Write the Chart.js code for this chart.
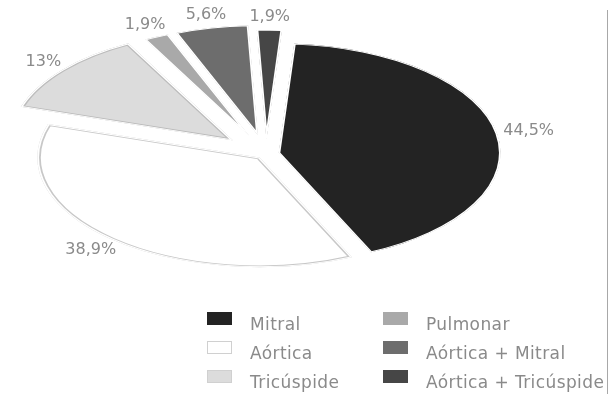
<!DOCTYPE html>
<html>
<head>
<meta charset="utf-8">
<script src="https://cdn.jsdelivr.net/npm/chart.js@4.4.1/dist/chart.umd.min.js"></script>
<style>
  html, body { margin: 0; padding: 0; background: #ffffff; }
  #wrap { position: relative; width: 613px; height: 394px; overflow: hidden; }
  #pie { position: absolute; left: 0; top: 0; }
  #frame { position: absolute; left: 607px; top: 10px; width: 1px; height: 384px; background: #a8a8a8; }
  .sw { position: absolute; width: 25px; height: 13px; box-sizing: border-box; }
  .tx { position: absolute; height: 20px; line-height: 20px; white-space: nowrap; letter-spacing: 0.4px;
        font-family: "DejaVu Sans", sans-serif; font-size: 17px; color: #8a8a8a; }
</style>
</head>
<body>
<div id="wrap">
  <canvas id="pie" width="613" height="394"></canvas>
  <div id="frame"></div>
</div>
<script>
// Valve involvement, share of cases (%)
const categories = ['Mitral', 'Aórtica', 'Tricúspide', 'Pulmonar', 'Aórtica + Mitral', 'Aórtica + Tricúspide'];
const percentages = [44.5, 38.9, 13, 1.9, 5.6, 1.9];

// Styling
const fillColors = ['#232323', '#ffffff', '#dcdcdc', '#a9a9a9', '#6d6d6d', '#464646'];
const outlineColors = [null, '#c8c8c8', '#bcbcbc', null, null, null];
const legendEdges = ['#232323', '#d0d0d0', '#d0d0d0', '#a9a9a9', '#6d6d6d', '#464646'];
const explode = [13, 10, 44, 40, 40, 30];   // outward shift of each slice, px

const TILT = 0.493;        // vertical squash of the pie (ellipse look)
const GAP = 1.5;           // white inner band around each slice
const LABEL_PAD = 8;       // distance of labels beyond the slice edge

const formatPct = v => String(v).replace('.', ',') + '%';
const CLEAR = 'rgba(0,0,0,0)';

// draw an arc element with a few options swapped in
function paintWith(arc, ctx, extra) {
  const saved = arc.options;
  arc.options = Object.assign({}, saved, extra);
  arc.draw(ctx);
  arc.options = saved;
}

const tiltPlugin = {
  id: 'tilt',
  beforeDatasetDraw(chart, args) {
    const ctx = chart.ctx;
    const arcs = args.meta.data;
    const cy = arcs[0].y;
    ctx.save();
    ctx.translate(0, cy);
    ctx.scale(1, TILT);
    ctx.translate(0, -cy);
    arcs.forEach((arc, i) => {
      const mid = (arc.startAngle + arc.endAngle) / 2;
      ctx.save();
      ctx.translate(Math.cos(mid) * explode[i], Math.sin(mid) * explode[i]);
      arc.draw(ctx);
      if (outlineColors[i]) {
        paintWith(arc, ctx, { backgroundColor: CLEAR, borderColor: outlineColors[i], borderWidth: GAP + 1.8 });
        paintWith(arc, ctx, { backgroundColor: CLEAR, borderColor: '#ffffff', borderWidth: GAP });
      }
      ctx.restore();
    });
    ctx.restore();
    return false;
  },
  afterDraw(chart) {
    const ctx = chart.ctx;
    const meta = chart.getDatasetMeta(0);
    ctx.save();
    ctx.font = '16px "DejaVu Sans", sans-serif';
    ctx.fillStyle = '#8a8a8a';
    ctx.textAlign = 'center';
    ctx.textBaseline = 'middle';
    meta.data.forEach((arc, i) => {
      const mid = (arc.startAngle + arc.endAngle) / 2;
      const text = formatPct(percentages[i]);
      const halfW = ctx.measureText(text).width / 2;
      const r = arc.outerRadius - GAP + explode[i] + LABEL_PAD;
      const lx = arc.x + Math.cos(mid) * r + Math.cos(mid) * halfW;
      const ly = arc.y + Math.sin(mid) * r * TILT + Math.sin(mid) * 10;
      ctx.fillText(text, lx, ly);
    });
    ctx.restore();
  }
};

new Chart(document.getElementById('pie'), {
  type: 'pie',
  data: {
    labels: categories,
    datasets: [{
      data: percentages,
      backgroundColor: fillColors,
      borderColor: '#ffffff',
      borderWidth: GAP,
      borderAlign: 'inner',
      clip: false
    }]
  },
  options: {
    responsive: false,
    animation: false,
    devicePixelRatio: 1,
    radius: 222,
    rotation: 4,
    layout: { padding: { left: 0, top: 0, right: 81, bottom: 86 } },
    events: [],
    plugins: {
      legend: { display: false },
      tooltip: { enabled: false }
    }
  },
  plugins: [tiltPlugin]
});

// Two-column legend below the pie
const wrap = document.getElementById('wrap');
categories.forEach((name, i) => {
  const col = Math.floor(i / 3), row = i % 3;
  const top = 312 + row * 29;
  const left = 207 + col * 176;
  const sw = document.createElement('div');
  sw.className = 'sw';
  sw.style.left = left + 'px';
  sw.style.top = top + 'px';
  sw.style.background = fillColors[i];
  sw.style.border = '1px solid ' + legendEdges[i];
  const tx = document.createElement('div');
  tx.className = 'tx';
  tx.style.left = (left + 43) + 'px';
  tx.style.top = (top + 2) + 'px';
  tx.textContent = name;
  wrap.appendChild(sw);
  wrap.appendChild(tx);
});
</script>
</body>
</html>
